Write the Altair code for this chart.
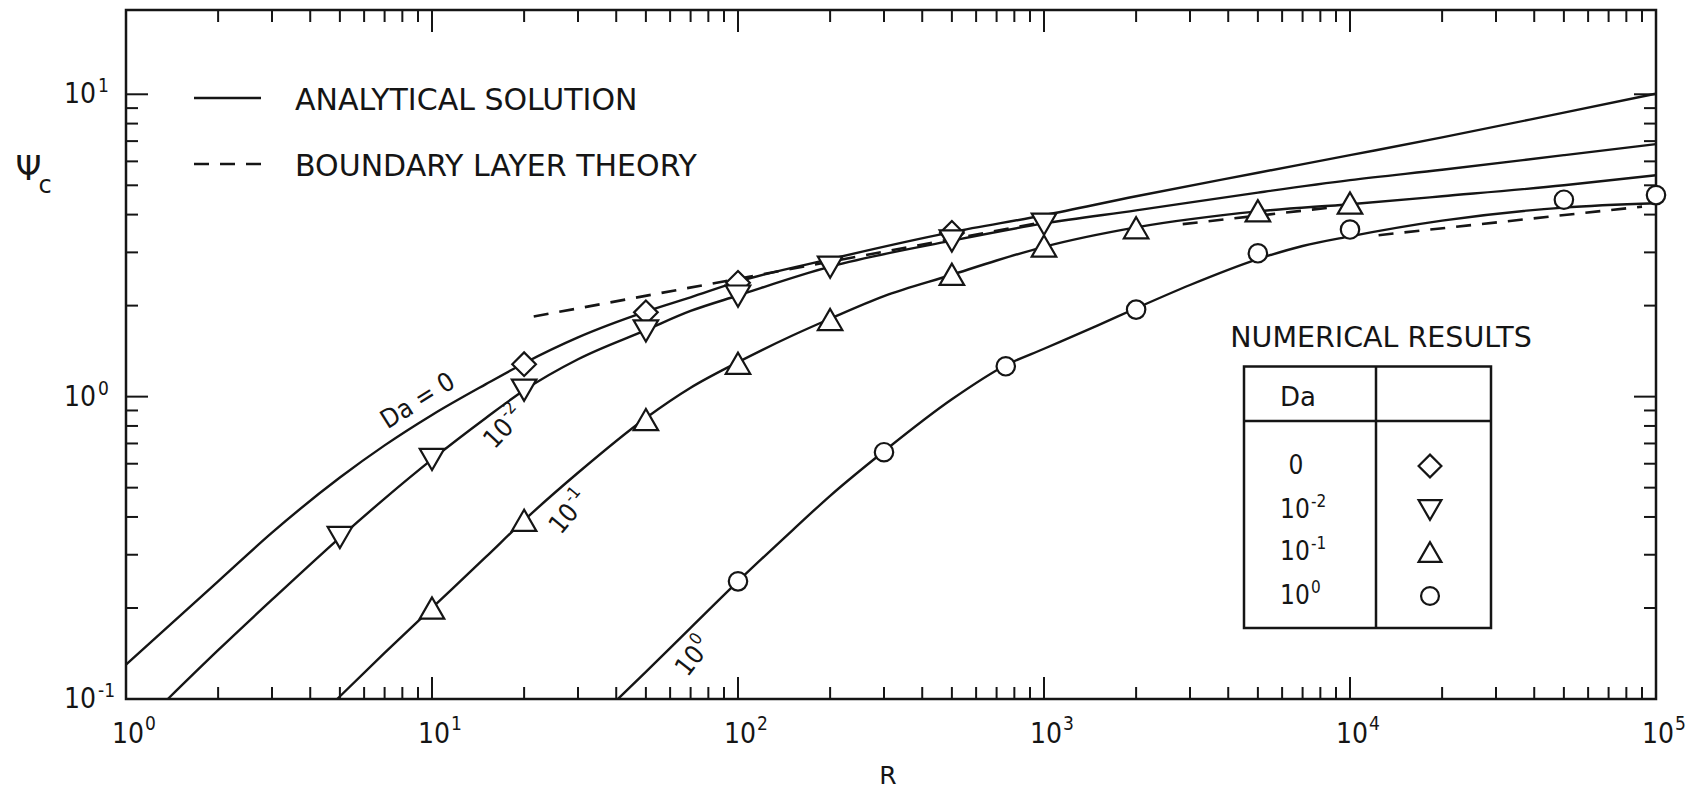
import altair as alt
import pandas as pd

INK = "#151515"
FONT = "DejaVu Sans"
NARROW = "DejaVu Sans Condensed, Liberation Sans Narrow, DejaVu Sans"

# ---------------- analytical solution curves ----------------
da0_R = [1, 2, 3, 5, 7, 10, 15, 20, 30, 50, 70, 100, 200, 500, 1000, 2000, 5000, 10000, 20000, 50000, 100000]
da0_psi = [0.13, 0.245, 0.355, 0.54, 0.69, 0.87, 1.1, 1.29, 1.57, 1.91, 2.13, 2.40, 2.85, 3.5, 3.98, 4.6, 5.5, 6.29, 7.2, 8.7, 10.05]

da2_R = [1.37, 2, 3, 5, 7, 10, 15, 20, 30, 50, 70, 100, 200, 500, 1000, 2000, 5000, 10000, 20000, 50000, 100000]
da2_psi = [0.1, 0.145, 0.213, 0.342, 0.46, 0.62, 0.85, 1.05, 1.33, 1.66, 1.92, 2.16, 2.69, 3.28, 3.74, 4.13, 4.73, 5.2, 5.63, 6.29, 6.84]

da1_R = [4.9, 7, 10, 15, 20, 30, 50, 70, 100, 150, 200, 300, 500, 700, 1000, 2000, 5000, 10000, 20000, 50000, 100000]
da1_psi = [0.1, 0.142, 0.2, 0.295, 0.39, 0.56, 0.85, 1.07, 1.30, 1.59, 1.81, 2.15, 2.53, 2.82, 3.13, 3.63, 4.1, 4.33, 4.6, 5.0, 5.4]

da10_R = [40.5, 50, 70, 100, 150, 200, 300, 500, 750, 1000, 1500, 2000, 3000, 5000, 7000, 10000, 20000, 50000, 100000]
da10_psi = [0.1, 0.123, 0.172, 0.245, 0.36, 0.47, 0.66, 0.98, 1.27, 1.44, 1.72, 1.96, 2.34, 2.85, 3.15, 3.39, 3.82, 4.22, 4.36]

# ---------------- boundary layer theory (dashed) ----------------
bl_a_R = [21.5, 1000]
bl_a_psi = [1.84, 3.78]
bl_b_R = [2840, 8970]
bl_b_psi = [3.72, 4.24]
bl_c_R = [12400, 90000]
bl_c_psi = [3.42, 4.25]

# ---------------- numerical results ----------------
num_da0_R = [20, 50, 100, 500]
num_da0_psi = [1.28, 1.9, 2.38, 3.48]
num_da2_R = [5, 10, 20, 50, 100, 200, 500, 1000]
num_da2_psi = [0.342, 0.62, 1.05, 1.65, 2.15, 2.68, 3.27, 3.72]
num_da1_R = [10, 20, 50, 100, 200, 500, 1000, 2000, 5000, 10000]
num_da1_psi = [0.2, 0.39, 0.84, 1.29, 1.80, 2.54, 3.15, 3.62, 4.12, 4.37]
num_da10_R = [100, 300, 750, 2000, 5000, 10000, 50000, 100000]
num_da10_psi = [0.245, 0.655, 1.26, 1.94, 2.98, 3.57, 4.48, 4.64]

# ---------------- axes ----------------
x_tick_values = [1, 10, 100, 1000, 10000, 100000]
x_tick_exps = ["0", "1", "2", "3", "4", "5"]
y_tick_values = [0.1, 1, 10]
y_tick_exps = ["-1", "0", "1"]
tick_base = "10"
minor_mult = [2, 3, 4, 5, 6, 7, 8, 9]
x_minor = [m * d for d in [1, 10, 100, 1000, 10000] for m in minor_mult]
x_major = [10, 100, 1000, 10000]
y_minor = [m * d for d in [0.1, 1] for m in minor_mult]
y_major = [1, 10]

curve_label_first = "Da = 0"
curve_label_exps = ["-2", "-1", "0"]
table_rows_base = ["0", "10", "10", "10"]
table_rows_exp = ["", "-2", "-1", "0"]
table_header = "Da"
legend_texts = ["ANALYTICAL SOLUTION", "BOUNDARY LAYER THEORY"]
table_title = "NUMERICAL RESULTS"

W, H = 1530, 689
xs = alt.Scale(type="log", domain=[1, 100000], nice=False)
ys = alt.Scale(type="log", domain=[0.1, 19.0], nice=False)

curves = pd.concat([
    pd.DataFrame({"R": da0_R, "psi": da0_psi, "Da": "0"}),
    pd.DataFrame({"R": da2_R, "psi": da2_psi, "Da": "0.01"}),
    pd.DataFrame({"R": da1_R, "psi": da1_psi, "Da": "0.1"}),
    pd.DataFrame({"R": da10_R, "psi": da10_psi, "Da": "1"}),
])
bl = pd.concat([
    pd.DataFrame({"R": bl_a_R, "psi": bl_a_psi, "seg": "a"}),
    pd.DataFrame({"R": bl_b_R, "psi": bl_b_psi, "seg": "b"}),
    pd.DataFrame({"R": bl_c_R, "psi": bl_c_psi, "seg": "c"}),
])

one = pd.DataFrame({"k": [0]})
layers = []


def text_at(txt, px, py, size, align="left", font=FONT, angle=None, dx=0, dy=0):
    kw = dict(font=font, fontSize=size, color=INK, align=align, baseline="middle", dx=dx, dy=dy)
    if angle is not None:
        kw["angle"] = angle
    return alt.Chart(one).mark_text(**kw).encode(
        x=alt.value(px), y=alt.value(py), text=alt.value(txt))


# tick marks drawn inward on all four sides
for vals, ln in [(x_minor, 12), (x_major, 22)]:
    d = pd.DataFrame({"R": vals})
    layers.append(alt.Chart(d).mark_rule(color=INK, strokeWidth=2).encode(
        x=alt.X("R:Q", scale=xs, axis=None), y=alt.value(H), y2=alt.value(H - ln)))
    layers.append(alt.Chart(d).mark_rule(color=INK, strokeWidth=2).encode(
        x=alt.X("R:Q", scale=xs, axis=None), y=alt.value(0), y2=alt.value(ln)))
for vals, ln in [(y_minor, 12), (y_major, 22)]:
    d = pd.DataFrame({"v": vals})
    layers.append(alt.Chart(d).mark_rule(color=INK, strokeWidth=2).encode(
        y=alt.Y("v:Q", scale=ys, axis=None), x=alt.value(0), x2=alt.value(ln)))
    layers.append(alt.Chart(d).mark_rule(color=INK, strokeWidth=2).encode(
        y=alt.Y("v:Q", scale=ys, axis=None), x=alt.value(W), x2=alt.value(W - ln)))

# tick labels: "10" with a raised exponent
xl = pd.DataFrame({"R": x_tick_values, "base": tick_base, "exp": x_tick_exps})
layers.append(alt.Chart(xl).mark_text(font=NARROW, fontSize=28, color=INK, align="center",
                                      baseline="middle", dx=2).encode(
    x=alt.X("R:Q", scale=xs, axis=None), y=alt.value(H + 36), text="base:N"))
layers.append(alt.Chart(xl).mark_text(font=NARROW, fontSize=19, color=INK, align="left",
                                      baseline="middle", dx=19).encode(
    x=alt.X("R:Q", scale=xs, axis=None), y=alt.value(H + 25), text="exp:N"))
yl = pd.DataFrame({"v": y_tick_values, "base": tick_base, "exp": y_tick_exps})
layers.append(alt.Chart(yl).mark_text(font=NARROW, fontSize=28, color=INK, align="right",
                                      baseline="middle", dy=1).encode(
    y=alt.Y("v:Q", scale=ys, axis=None), x=alt.value(-30), text="base:N"))
layers.append(alt.Chart(yl).mark_text(font=NARROW, fontSize=19, color=INK, align="left",
                                      baseline="middle", dy=-8).encode(
    y=alt.Y("v:Q", scale=ys, axis=None), x=alt.value(-28), text="exp:N"))

# analytical curves
layers.append(alt.Chart(curves).mark_line(color=INK, strokeWidth=2.4, interpolate="monotone").encode(
    x=alt.X("R:Q", scale=xs, axis=None),
    y=alt.Y("psi:Q", scale=ys, axis=None),
    detail="Da:N"))

# boundary layer theory
layers.append(alt.Chart(bl).mark_line(color=INK, strokeWidth=2.6, strokeDash=[15, 11]).encode(
    x=alt.X("R:Q", scale=xs, axis=None),
    y=alt.Y("psi:Q", scale=ys, axis=None),
    detail="seg:N"))

# numerical results markers
for R, psi, shape, size in [
    (num_da0_R, num_da0_psi, "diamond", 560),
    (num_da2_R, num_da2_psi, "triangle-down", 600),
    (num_da1_R, num_da1_psi, "triangle-up", 600),
    (num_da10_R, num_da10_psi, "circle", 340),
]:
    d = pd.DataFrame({"R": R, "psi": psi})
    layers.append(alt.Chart(d).mark_point(shape=shape, size=size, filled=True, fill="white",
                                          stroke=INK, strokeWidth=2.2, opacity=1).encode(
        x=alt.X("R:Q", scale=xs, axis=None),
        y=alt.Y("psi:Q", scale=ys, axis=None)))

# curve labels (rotated along the curves)
layers.append(text_at(curve_label_first, 292, 391, 26, align="center", font=NARROW, angle=328))
for exp, px, py, ang in zip(curve_label_exps, [379, 444, 570], [417, 502, 644], [313, 310, 308]):
    layers.append(text_at(tick_base, px, py, 26, align="left", font=NARROW, angle=ang, dx=-24))
    layers.append(text_at(exp, px, py, 17, align="left", font=NARROW, angle=ang, dx=7, dy=-9))

# top-left legend
layers.append(alt.Chart(one).mark_rule(color=INK, strokeWidth=2.5).encode(
    x=alt.value(68), x2=alt.value(135), y=alt.value(88)))
layers.append(alt.Chart(one).mark_rule(color=INK, strokeWidth=2.5, strokeDash=[15, 11]).encode(
    x=alt.value(68), x2=alt.value(135), y=alt.value(154)))
layers.append(text_at(legend_texts[0], 169, 90.5, 30))
layers.append(text_at(legend_texts[1], 169, 156.7, 30))

# numerical results table
layers.append(text_at(table_title, 1255, 328, 28.5, align="center"))
layers.append(alt.Chart(one).mark_rect(fillOpacity=0, stroke=INK, strokeWidth=2.5).encode(
    x=alt.value(1118), x2=alt.value(1365), y=alt.value(356.5), y2=alt.value(618)))
layers.append(alt.Chart(one).mark_rule(color=INK, strokeWidth=2.5).encode(
    x=alt.value(1250), y=alt.value(356.5), y2=alt.value(618)))
layers.append(alt.Chart(one).mark_rule(color=INK, strokeWidth=2.5).encode(
    x=alt.value(1118), x2=alt.value(1365), y=alt.value(411)))
layers.append(text_at(table_header, 1154, 388, 26))
row_y = [456, 500, 542, 586]
row_shapes = [("diamond", 520), ("triangle-down", 520), ("triangle-up", 520), ("circle", 320)]
for i in range(4):
    if table_rows_exp[i] == "":
        layers.append(text_at(table_rows_base[i], 1170, row_y[i], 26, align="center", font=NARROW))
    else:
        layers.append(text_at(table_rows_base[i], 1154, row_y[i], 26, font=NARROW))
        layers.append(text_at(table_rows_exp[i], 1185, row_y[i] - 8, 17, font=NARROW))
    shp, sz = row_shapes[i]
    layers.append(alt.Chart(one).mark_point(shape=shp, size=sz, filled=True, fill="white",
                                            stroke=INK, strokeWidth=2.2, opacity=1).encode(
        x=alt.value(1304), y=alt.value(row_y[i])))

# axis titles
layers.append(text_at("Ψ", -97.5, 159.5, 33, align="center"))
layers.append(text_at("c", -81, 176, 24, align="center"))
layers.append(text_at("R", 762, 766, 25, align="center"))

# invisible pin fixing the left extent of the drawing
layers.append(alt.Chart(one).mark_rule(color="white", strokeOpacity=0, strokeWidth=1).encode(
    x=alt.value(-117.7), x2=alt.value(-116.7), y=alt.value(300)))

chart = alt.layer(*layers).properties(
    width=W, height=H,
    padding={"left": 0, "top": 1, "right": 0, "bottom": 0},
    background="white",
).configure_view(stroke=INK, strokeWidth=2.5)

chart.save("out.html", embed_options={"renderer": "svg", "actions": False})
